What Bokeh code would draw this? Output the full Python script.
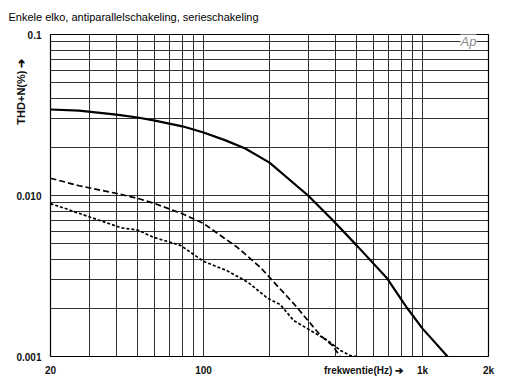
import math
from bokeh.plotting import figure
from bokeh.models import FixedTicker, Label, Title
from bokeh.embed import file_html
from bokeh.resources import INLINE

# --- data ---
freq_solid = [20, 27, 40, 50, 60, 80, 100, 126, 155, 200, 300, 390, 500, 690, 850, 1000, 1300]
thd_solid = [0.0342, 0.0337, 0.0318, 0.0305, 0.0292, 0.0269, 0.0246, 0.0220, 0.0196, 0.0160,
             0.0100, 0.0070, 0.0049, 0.00305, 0.0020, 0.00149, 0.00100]

freq_dash = [20, 27, 40, 50, 60, 80, 100, 143, 182, 200, 258, 300, 342, 388, 420]
thd_dash = [0.0128, 0.0115, 0.0103, 0.0096, 0.0089, 0.0077, 0.0067, 0.00475, 0.00357, 0.0031,
            0.00213, 0.00167, 0.00135, 0.00117, 0.00100]

freq_dot = [20, 23.4, 27.4, 42, 50, 59, 78.5, 100, 128.6, 159, 196, 224, 258, 298, 368, 422, 470, 500]
thd_dot = [0.0089, 0.0083, 0.0077, 0.0063, 0.0061, 0.0055, 0.0049, 0.0039, 0.0034, 0.0029,
           0.0023, 0.0021, 0.00167, 0.00149, 0.00126, 0.00109, 0.00101, 0.00100]

x_ticks = [20, 100, 1000, 2000]
x_tick_labels = ["20", "100", "1k", "2k"]
y_ticks = [0.001, 0.01, 0.1]
y_tick_labels = ["0.001", "0.010", "0.1"]

x_grid = [20, 30, 40, 50, 60, 70, 80, 90, 100, 200, 300, 400, 500, 600, 700, 800, 900, 1000, 2000]
y_grid = [m * 10 ** e for e in (-3, -2) for m in range(1, 10)] + [0.1]

title_text = "Enkele elko, antiparallelschakeling, serieschakeling"
y_label_text = "THD+N(%) \u2794"
x_label_text = "frekwentie(Hz) \u2794"
logo_text = "Ap"

FONT = "Liberation Sans"

# page / frame geometry (pixels)
W, H = 500, 384
BL, BT, FW, FH = 50, 34, 438, 322
X_MIN, X_MAX, Y_MIN, Y_MAX = 20, 2000, 0.001, 0.1


def data_x(px):
    """page pixel column -> frequency on the log x scale"""
    f = (px - BL) / FW
    return 10 ** (math.log10(X_MIN) + f * (math.log10(X_MAX) - math.log10(X_MIN)))


def data_y(py):
    """page pixel row -> value on the log y scale"""
    f = (BT + FH - py) / FH
    return 10 ** (math.log10(Y_MIN) + f * (math.log10(Y_MAX) - math.log10(Y_MIN)))


p = figure(width=W, height=H, x_axis_type="log", y_axis_type="log",
           x_range=(X_MIN, X_MAX), y_range=(Y_MIN, Y_MAX),
           output_backend="svg", toolbar_location=None,
           min_border_left=BL, min_border_right=W - BL - FW,
           min_border_top=BT, min_border_bottom=H - BT - FH)

p.background_fill_color = "white"
p.border_fill_color = "white"
p.outline_line_color = "black"
p.outline_line_width = 1.2

# main axes
for ax in (p.xaxis[0], p.yaxis[0]):
    ax.axis_line_color = None
    ax.major_tick_line_color = None
    ax.minor_tick_line_color = None
    ax.major_tick_out = 0
    ax.major_tick_in = 0
    ax.minor_tick_out = 0
    ax.minor_tick_in = 0
    ax.major_label_text_font = FONT
    ax.major_label_text_color = "#111111"
    ax.major_label_text_font_style = "bold"
    ax.major_label_text_font_size = "10px"

# x label sits on the tick-label row, centred at ~363 px
x_label_pos = data_x(363)
p.xaxis[0].major_label_standoff = 8
p.yaxis[0].major_label_standoff = 9
p.xaxis[0].ticker = FixedTicker(ticks=x_ticks + [x_label_pos])
overrides = {t: s for t, s in zip(x_ticks, x_tick_labels)}
overrides[x_label_pos] = x_label_text
p.xaxis[0].major_label_overrides = overrides
p.yaxis[0].ticker = FixedTicker(ticks=y_ticks)
p.yaxis[0].major_label_overrides = {t: s for t, s in zip(y_ticks, y_tick_labels)}

# grid
p.xgrid[0].ticker = FixedTicker(ticks=x_grid)
p.ygrid[0].ticker = FixedTicker(ticks=y_grid)
for g in (p.xgrid[0], p.ygrid[0]):
    g.grid_line_color = "#1a1a1a"
    g.grid_line_width = 1
    g.grid_line_alpha = 0.9
    g.minor_grid_line_color = None

# curves
p.line(freq_solid, thd_solid, line_color="black", line_width=2.2)
p.line(freq_dash, thd_dash, line_color="black", line_width=1.7, line_dash="6 3")
p.line(freq_dot, thd_dot, line_color="black", line_width=1.7, line_dash="3 2")

# title (above, starting at the page's left edge)
p.add_layout(Title(text=title_text, align="left", offset=-42, standoff=19,
                   vertical_align="top", text_font=FONT, text_font_size="11px",
                   text_font_style="normal", text_color="#000000"), "above")

# vertical y-axis label near the top of the left side
p.add_layout(Title(text=y_label_text, align="right", offset=24, standoff=-27,
                   vertical_align="bottom", text_font=FONT, text_font_size="11px",
                   text_font_style="bold", text_color="#111111"), "left")

# Audio Precision logo inside the frame
p.add_layout(Label(x=data_x(460), y=data_y(41), text=logo_text, text_font=FONT,
                   text_font_size="13px", text_font_style="italic", text_color="#8a8a8a",
                   text_baseline="middle", background_fill_color="white",
                   background_fill_alpha=1.0))

open("out.html", "w").write(file_html(p, INLINE))
